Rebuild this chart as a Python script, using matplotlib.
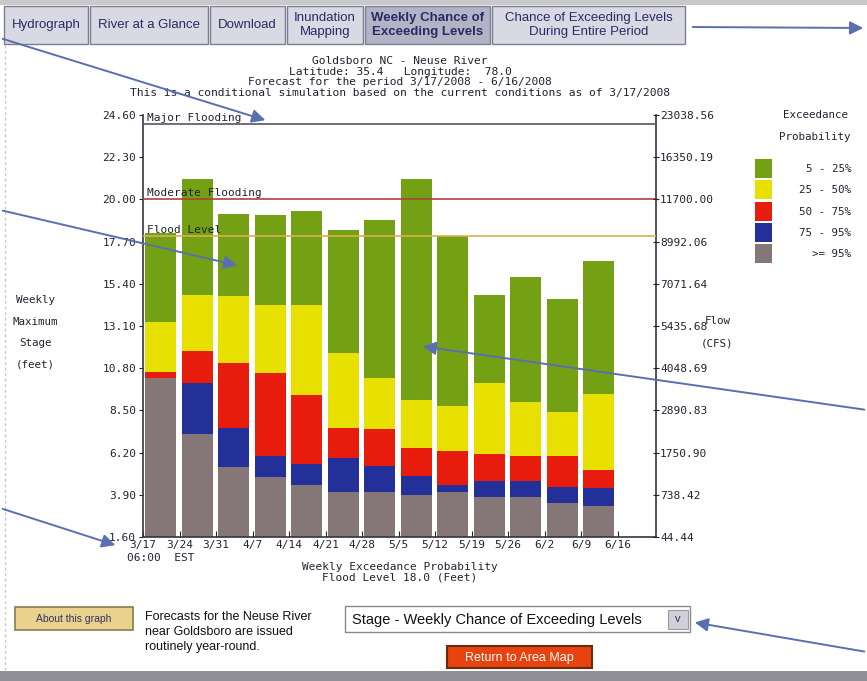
import matplotlib
matplotlib.use("Agg")
import matplotlib.pyplot as plt
from matplotlib.patches import Rectangle

# stage (feet) at each exceedance probability, one value per week
weeks = ["3/17", "3/24", "3/31", "4/7", "4/14", "4/21", "4/28", "5/5",
         "5/12", "5/19", "5/26", "6/2", "6/9", "6/16"]
p05 = [18.17, 21.11, 19.20, 19.15, 19.37, 18.33, 18.88, 21.11, 18.01, 14.79, 15.77, 14.57, 16.64]
p25 = [13.32, 14.79, 14.74, 14.25, 14.25, 11.63, 10.27, 9.07, 8.74, 10.00, 8.96, 8.41, 9.40]
p50 = [10.60, 11.74, 11.07, 10.53, 9.34, 7.54, 7.49, 6.45, 6.29, 6.13, 6.02, 6.02, 5.25]
p75 = [10.27, 10.00, 7.54, 6.02, 5.58, 5.91, 5.47, 4.93, 4.44, 4.65, 4.65, 4.33, 4.27]
p95 = [10.27, 7.22, 5.42, 4.87, 4.44, 4.06, 4.06, 3.89, 4.06, 3.78, 3.78, 3.46, 3.29]

stage_ticks = [1.60, 3.90, 6.20, 8.50, 10.80, 13.10, 15.40, 17.70, 20.00, 22.30, 24.60]
flow_ticks = ["44.44", "738.42", "1750.90", "2890.83", "4048.69", "5435.68",
              "7071.64", "8992.06", "11700.00", "16350.19", "23038.56"]
flood_levels = [("Major Flooding", 24.1, "#555566"),
                ("Moderate Flooding", 20.0, "#a8453c"),
                ("Flood Level", 18.0, "#d8b050")]
legend_labels = ["5 - 25%", "25 - 50%", "50 - 75%", "75 - 95%", ">= 95%"]
colors = ["#74a114", "#e8e000", "#e81c0c", "#23309a", "#857678"]

W, H = 867, 681
MONO = "DejaVu Sans Mono"
SANS = "Liberation Sans"
ink = "#222233"
arrow_col = "#5a6fb0"

fig = plt.figure(figsize=(W / 100, H / 100), dpi=100)
fig.patch.set_facecolor("white")


def fx(x):
    return x / W


def fy(y):
    return 1 - y / H


def ftext(x, y, s, **kw):
    kw.setdefault("family", MONO)
    kw.setdefault("size", 8)
    kw.setdefault("color", ink)
    kw.setdefault("va", "center")
    fig.text(fx(x), fy(y), s, **kw)


def frect(x0, y0, x1, y1, **kw):
    fig.add_artist(Rectangle((fx(x0), fy(y1)), fx(x1) - fx(x0), fy(y0) - fy(y1),
                             transform=fig.transFigure, **kw))


def farrow(x0, y0, x1, y1):
    fig.add_artist(matplotlib.patches.FancyArrowPatch(
        (fx(x0), fy(y0)), (fx(x1), fy(y1)), transform=fig.transFigure,
        arrowstyle="-|>", mutation_scale=20, color=arrow_col, lw=1.4, zorder=20))


# page frame
frect(0, 0, W, 5, facecolor="#c9c9cc", edgecolor="none")
frect(0, 671, W, H, facecolor="#8f8f95", edgecolor="none")
fig.add_artist(plt.Line2D([fx(5), fx(5)], [fy(45), fy(670)], transform=fig.transFigure,
                          color="#c8c8c8", lw=1, ls=(0, (2, 2))))

# tabs
tabs = [(4, 88, "Hydrograph"), (90, 208, "River at a Glance"), (210, 285, "Download"),
        (287, 363, "Inundation\nMapping"), (365, 490, "Weekly Chance of\nExceeding Levels"),
        (492, 685, "Chance of Exceeding Levels\nDuring Entire Period")]
for i, (a, b, s) in enumerate(tabs):
    sel = i == 4
    frect(a, 6, b, 44, facecolor="#b3b3c6" if sel else "#d9d9e3",
          edgecolor="#7d7d95", lw=1)
    ftext((a + b) / 2, 25, s, family=SANS, size=9.5, ha="center", color="#2a2a66",
          linespacing=1.25, weight="bold" if sel else "normal")

# title block
title = ["Goldsboro NC - Neuse River",
         "Latitude: 35.4   Longitude:  78.0",
         "Forecast for the period 3/17/2008 - 6/16/2008",
         "This is a conditional simulation based on the current conditions as of 3/17/2008"]
for k, line in enumerate(title):
    ftext(400, 61 + k * 10.7, line, ha="center", size=8.1)

# main chart
ax = fig.add_axes([fx(143), fy(537), fx(656) - fx(143), fy(115) - fy(537)])
x = [i + 0.48 for i in range(len(p05))]
tops = [p05, p25, p50, p75, p95]
base = [stage_ticks[0]] * len(p05)
for lvl in range(4, -1, -1):
    lo = base if lvl == 4 else tops[lvl + 1]
    ax.bar(x, [t - b for t, b in zip(tops[lvl], lo)], bottom=lo, width=0.85,
           color=colors[lvl], linewidth=0, zorder=2)

for name, lev, col in flood_levels:
    ax.axhline(lev, color=col, lw=1.2, zorder=3)
    ax.text(0.12, lev + 0.05, name, family=MONO, size=8, color=ink, va="bottom", zorder=4)

ax.set_xlim(0, 14.05)
ax.set_ylim(stage_ticks[0], stage_ticks[-1])
ax.set_yticks(stage_ticks)
ax.set_yticklabels([f"{v:.2f}" for v in stage_ticks], family=MONO, size=8, color=ink)
ax.set_xticks(range(len(weeks)))
ax.set_xticklabels(weeks, family=MONO, size=8, color=ink)
ax.tick_params(axis="x", direction="in", length=4, pad=2, color=ink)
ax.tick_params(axis="y", direction="out", length=3, pad=2, color=ink)
for side in ["left", "right", "bottom"]:
    ax.spines[side].set_color("#333344")
    ax.spines[side].set_linewidth(1.2)
ax.spines["top"].set_visible(False)

ax2 = ax.twinx()
ax2.set_ylim(ax.get_ylim())
ax2.set_yticks(stage_ticks)
ax2.set_yticklabels(flow_ticks, family=MONO, size=8, color=ink)
ax2.tick_params(axis="y", direction="inout", length=4, pad=1, color=ink)
for s in ax2.spines.values():
    s.set_visible(False)

ftext(127, 558, "06:00  EST", size=8)
ftext(400, 567, "Weekly Exceedance Probability", ha="center")
ftext(400, 578, "Flood Level 18.0 (Feet)", ha="center")

# axis titles
for s, yy in zip(["Weekly", "Maximum", "Stage", "(feet)"], [300, 322, 343, 365]):
    ftext(35, yy, s, ha="center", size=7.8)
ftext(718, 321, "Flow", ha="center", size=7.8)
ftext(717, 343, "(CFS)", ha="center", size=7.8)

# legend
ftext(815, 115, "Exceedance", ha="center", size=7.8)
ftext(815, 137, "Probability", ha="center", size=7.8)
for k, (lab, col) in enumerate(zip(legend_labels, colors)):
    y0 = 159 + k * 21.3
    frect(755, y0, 772, y0 + 19, facecolor=col, edgecolor="none")
    ftext(851, y0 + 10, lab, ha="right", size=7.8)

# bottom controls
frect(15, 607, 133, 630, facecolor="#e9d28c", edgecolor="#8a7a50", lw=1.2)
ftext(74, 619, "About this graph", family=SANS, size=7.5, ha="center", color="#333366")
ftext(145, 632, "Forecasts for the Neuse River\nnear Goldsboro are issued\nroutinely year-round.",
      family=SANS, size=9, color="#111111", linespacing=1.35)
frect(345, 606, 690, 632, facecolor="white", edgecolor="#8a8a8a", lw=1)
ftext(352, 620, "Stage - Weekly Chance of Exceeding Levels", family=SANS, size=10.5,
      color="#111111")
frect(668, 610, 688, 629, facecolor="#d0d0d8", edgecolor="#9a9aa8", lw=0.8)
ftext(678, 619, "v", family=SANS, size=8, ha="center", color="#333366")
frect(447, 646, 592, 668, facecolor="#e8420e", edgecolor="#6a2a10", lw=1.5)
ftext(519, 658, "Return to Area Map", family=SANS, size=9, ha="center", color="white")

# callout arrows
farrow(0, 38, 268, 121)
farrow(0, 210, 240, 266)
farrow(867, 410, 420, 346)
farrow(0, 508, 118, 546)
farrow(690, 27, 866, 28)
farrow(867, 652, 692, 622)

fig.savefig("out.png", dpi=100)
